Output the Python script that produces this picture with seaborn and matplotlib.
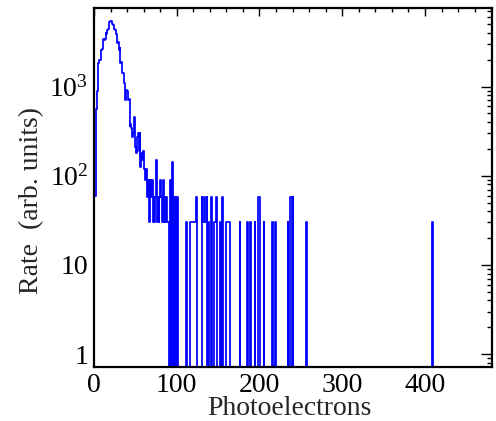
import numpy as np
import pandas as pd
import matplotlib
matplotlib.use("Agg")
import matplotlib.pyplot as plt
import seaborn as sns
from matplotlib.ticker import FixedLocator, MultipleLocator, LogLocator, NullFormatter

# rate per 1-PE bin, PE 0..100
core_rate = [
    60, 60, 500, 560, 900, 1830, 1990, 2000, 2400, 2580,
    2650, 3400, 3350, 3450, 3970, 3900, 4330, 4400, 5350, 5450,
    5500, 5400, 5000, 4920, 4400, 4330, 3970, 3900, 3070, 3200,
    2580, 2700, 1830, 1900, 1420, 1413, 1090, 1100, 710, 918,
    900, 710, 720, 357, 380, 340, 275, 300, 461, 440,
    212, 180, 275, 300, 190, 300, 126, 180, 150, 190,
    151, 120, 90, 120, 58, 89, 58, 30, 89, 58,
    89, 30, 58, 30, 58, 150, 30, 58, 30, 58,
    89, 58, 30, 89, 30, 58, 30, 58, 30, 30,
    30, 0, 89, 0, 143, 0, 58, 0, 58, 0,
    58,
]

# sparse tail above 100 PE
tail_pe = [111, 116, 117, 118, 119, 120, 121, 122, 123,
           130, 131, 132, 133, 134, 135, 136, 138, 141,
           145, 146, 147, 148, 152, 155, 159, 160, 161, 162, 163,
           176, 185, 189, 194, 198, 199, 200, 205, 215, 219,
           234, 237, 238, 240, 256, 409]
tail_rate = [30, 30, 30, 30, 30, 30, 30, 30, 58,
             58, 30, 30, 58, 30, 30, 58, 30, 58,
             30, 30, 30, 58, 30, 58, 30, 30, 30, 30, 30,
             30, 30, 30, 30, 58, 58, 58, 30, 30, 30,
             30, 58, 58, 58, 30, 30]

n_bins = 480
edges = np.arange(n_bins + 1, dtype=float)
rate = np.zeros(n_bins)
rate[:len(core_rate)] = core_rate
rate[tail_pe] = tail_rate
df = pd.DataFrame({"pe": edges[:-1] + 0.5, "rate": rate})

sns.set_style("white")
plt.rcParams["font.family"] = ["Liberation Serif", "DejaVu Serif"]
plt.rcParams["mathtext.fontset"] = "custom"
plt.rcParams["mathtext.rm"] = "Liberation Serif"
plt.rcParams["mathtext.it"] = "Liberation Serif:italic"

fig = plt.figure(figsize=(4.96, 4.21), dpi=100)
ax = fig.add_axes([0.1895, 0.128, 0.8025, 0.853])

sns.histplot(data=df, x="pe", weights="rate", bins=list(edges), element="step",
             fill=False, color="#0000ff", linewidth=1.25, ax=ax)

ax.set_yscale("log")
ax.set_xlim(0, 481)
ax.set_ylim(0.715, 7600)

ax.xaxis.set_major_locator(MultipleLocator(100))
ax.xaxis.set_minor_locator(MultipleLocator(20))
ax.yaxis.set_major_locator(FixedLocator([1, 10, 100, 1000]))
ax.yaxis.set_minor_locator(LogLocator(base=10, subs=np.arange(2, 10)))
ax.yaxis.set_minor_formatter(NullFormatter())
ax.set_yticklabels(["1", "10", r"$\mathregular{10^{2}}$", r"$\mathregular{10^{3}}$"])

ax.tick_params(axis="both", which="both", direction="in", top=True, right=True,
               labelsize=20, colors="black")
ax.tick_params(axis="x", which="major", length=6, width=1, pad=4)
ax.tick_params(axis="x", which="minor", length=3, width=1)
ax.tick_params(axis="y", which="major", length=8, width=1, pad=4)
ax.tick_params(axis="y", which="minor", length=3.6, width=1)

for s in ax.spines.values():
    s.set_linewidth(1.6)
    s.set_color("black")

ax.set_xlabel("Photoelectrons", fontsize=20)
ax.set_ylabel("Rate  (arb. units)", fontsize=20)
ax.xaxis.set_label_coords(0.49, -0.081)
ax.yaxis.set_label_coords(-0.125, 0.465)

fig.savefig("out.png", dpi=100)
